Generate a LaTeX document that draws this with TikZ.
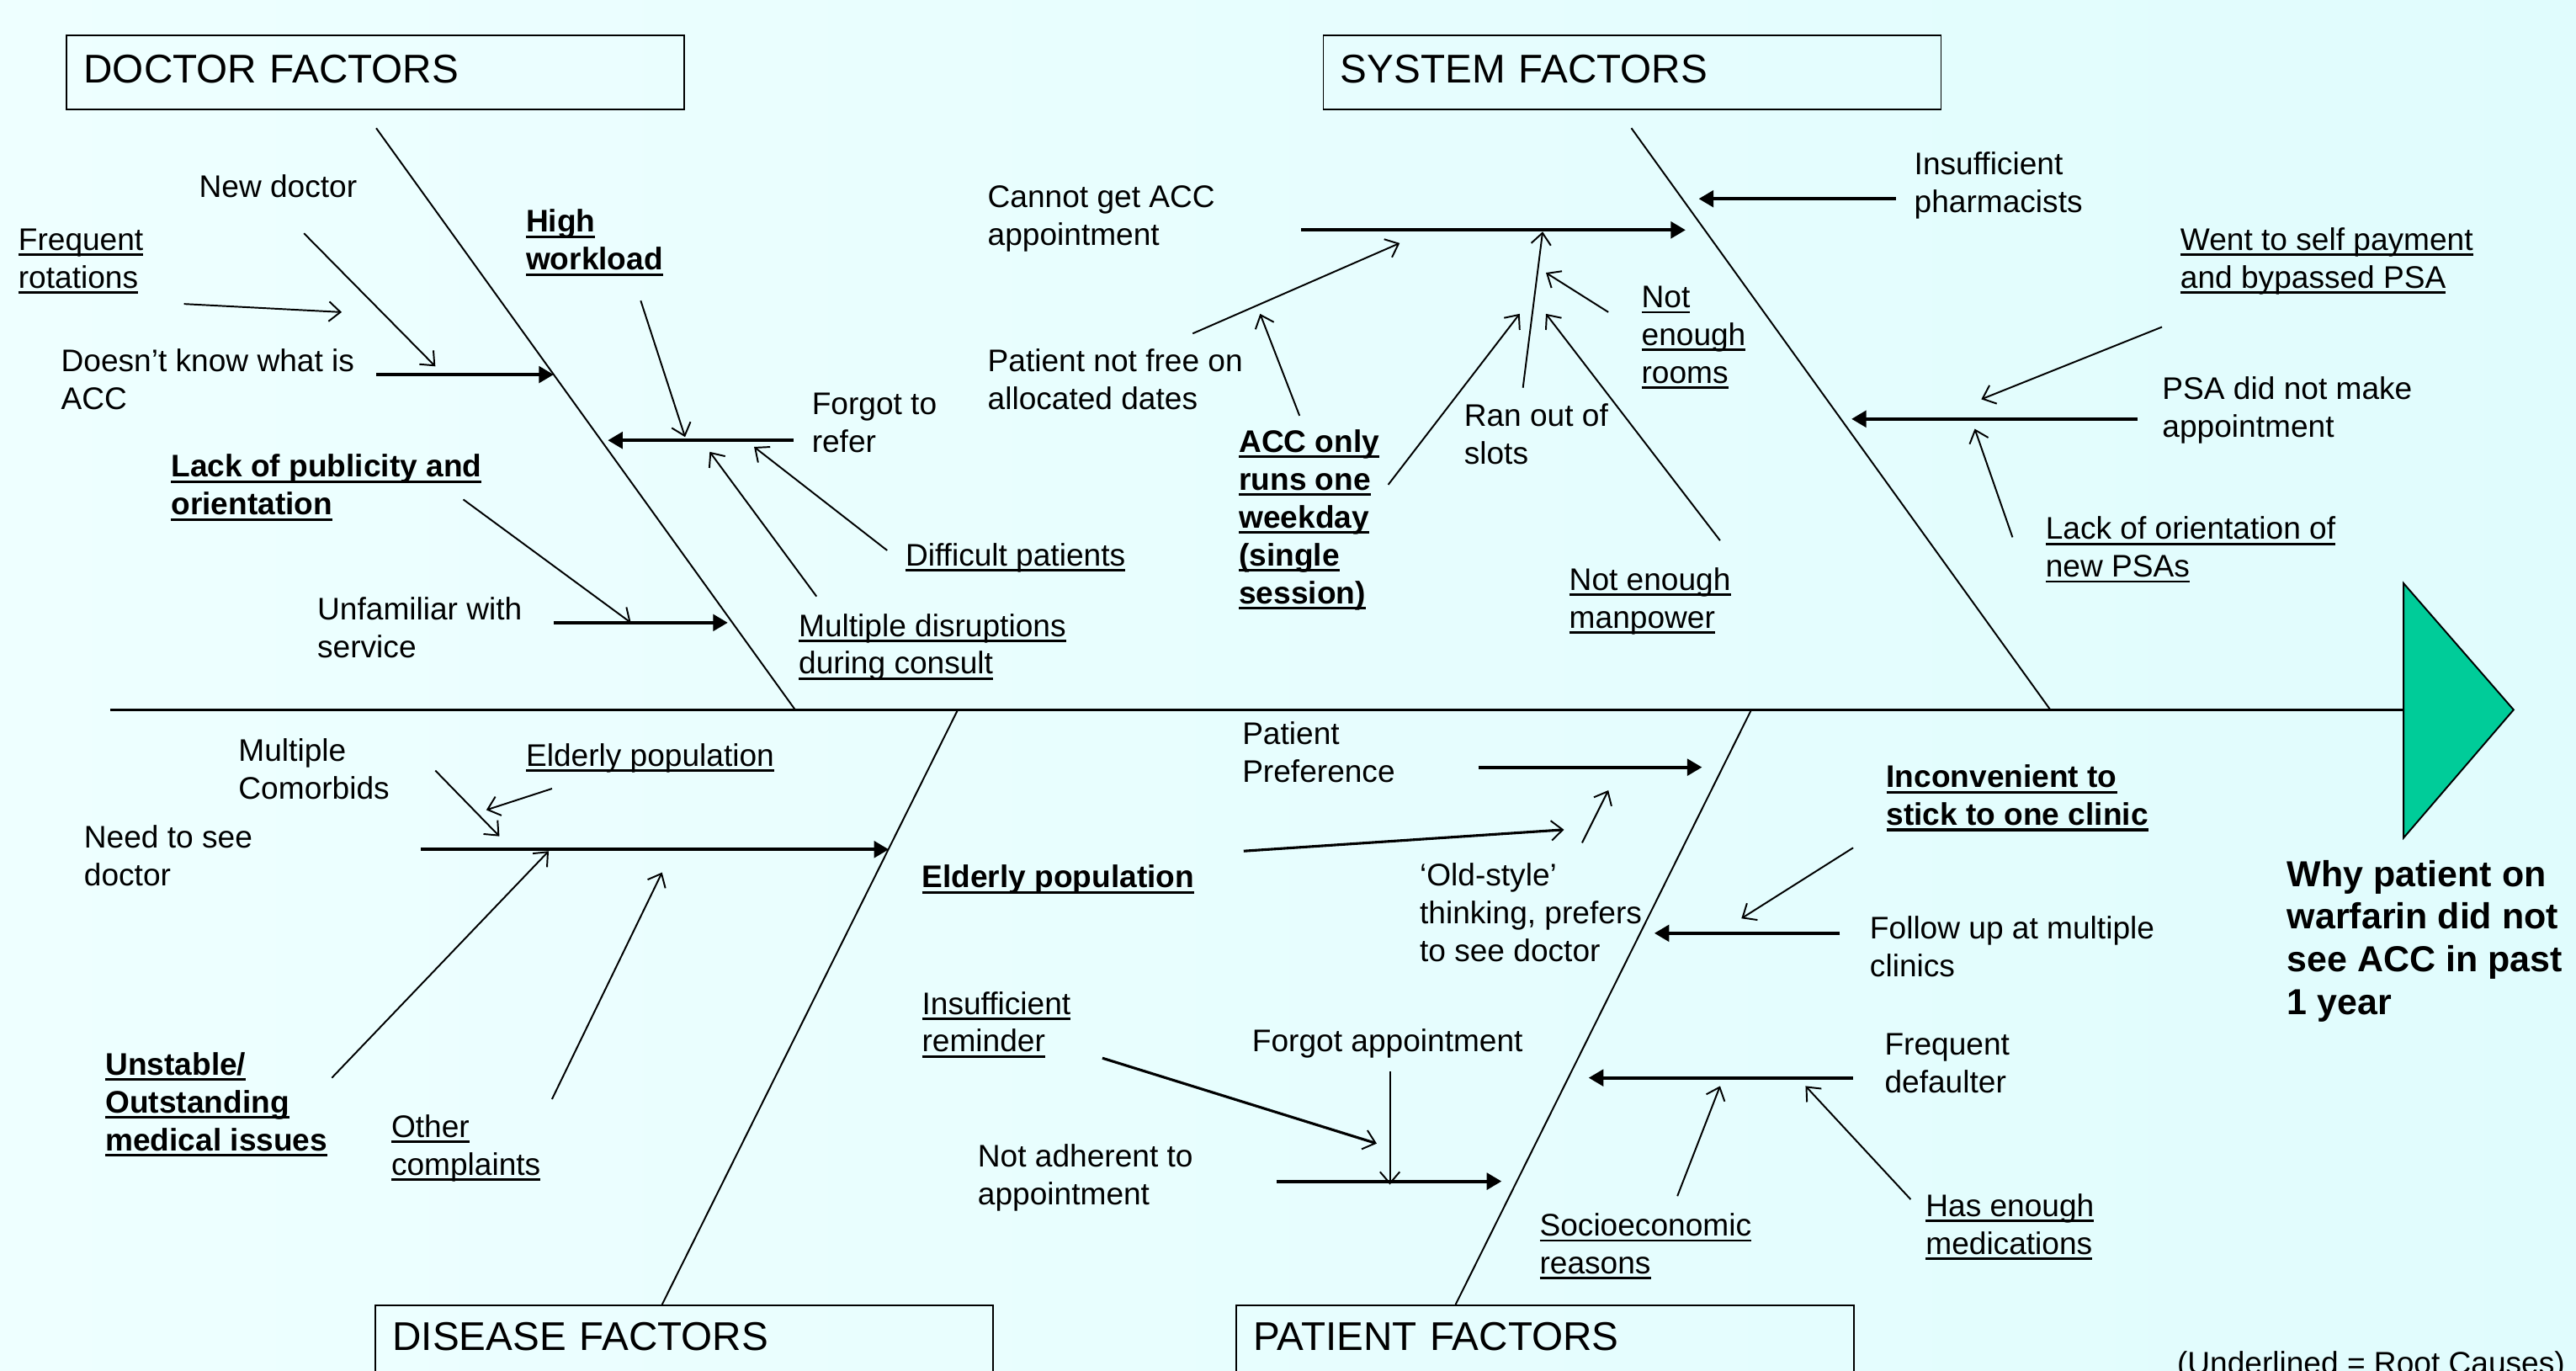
\documentclass[tikz,border=0pt]{standalone}
\usepackage{fontspec}
\setmainfont{Liberation Sans}
\usetikzlibrary{arrows.meta}
\definecolor{bgA}{RGB}{238,255,255}
\definecolor{bgB}{RGB}{224,252,253}
\definecolor{headgreen}{RGB}{0,204,153}
\newcommand\ulin[1]{\setbox0=\hbox{#1}\rlap{\rule[-3.4pt]{\wd0}{1.4pt}}\box0}
\newcommand\ulb[1]{\setbox0=\hbox{\bfseries #1}\rlap{\rule[-3.6pt]{\wd0}{1.6pt}}\box0}
\newcommand\fbarrow[4]{\coordinate (#1s) at (#2); \coordinate (#1e) at (#3); \draw[#4] (#1s) -- (#1e);}
\tikzset{
 lab/.style={anchor=north west, inner sep=0pt, yshift=-1pt, align=left, font=\fontsize{19}{23}\selectfont},
 thinarr/.style={line width=1pt, -{Straight Barb[length=7pt,width=12pt,line width=1pt]}},
 medarr/.style={line width=1.6pt, -{Straight Barb[length=7pt,width=12pt,line width=1pt]}},
 thickarr/.style={line width=2pt, -{Triangle[length=9pt,width=10pt]}},
 bone/.style={line width=1pt},
 titlebox/.style={draw, line width=1pt, anchor=north west, minimum height=45pt, inner xsep=10.5pt, inner ysep=0pt, text width=355pt, align=left, font=\fontsize{24.4}{29}\selectfont},
}
\begin{document}
\begin{tikzpicture}[x=1pt,y=-1pt]
\path[use as bounding box, left color=bgA, right color=bgB] (0,0) rectangle (1568,834);
\clip (0,0) rectangle (1568,834);
% titles
\node[titlebox] (tDoc) at (40,21) {DOCTOR FACTORS\vphantom{Q}};
\node[titlebox] (tSys) at (805,21) {SYSTEM FACTORS\vphantom{Q}};
\node[titlebox, minimum height=42pt] (tDis) at (228,794) {DISEASE FACTORS\vphantom{Q}};
\node[titlebox, minimum height=42pt] (tPat) at (752,794) {PATIENT FACTORS\vphantom{Q}};
\node[anchor=base west, inner sep=0pt, font=\fontsize{19}{23}\selectfont] (note) at (1325,836) {(Underlined = Root Causes)};
% spine and head
\coordinate (spL) at (67,432); \coordinate (spR) at (1463,432);
\draw[line width=1.5pt] (spL) -- (spR);
\coordinate (hT) at (1463,355); \coordinate (hR) at (1530,432); \coordinate (hB) at (1463,510);
\draw[fill=headgreen, line width=1pt] (hT) -- (hR) -- (hB) -- cycle;
\node[lab, font=\fontsize{22}{26}\selectfont\bfseries] (why) at (1392,520) {\strut Why patient on\\warfarin did not\\see ACC in past\\1 year};
% bones
\fbarrow{bD}{229,78}{484,432}{bone}
\fbarrow{bS}{993,78}{1248,432}{bone}
\fbarrow{bE}{583,432}{403,794}{bone}
\fbarrow{bP}{1066,432}{886,794}{bone}
% ---------- doctor factors
\node[lab] (dNew) at (121,103) {\strut New doctor};
\node[lab] (dFreq) at (11,135) {\strut\ulin{Frequent}\\\ulin{rotations}};
\node[lab] (dKnow) at (37,209) {\strut Doesn’t know what is\\ACC};
\node[lab] (dHigh) at (320,124) {\strut\ulb{High}\\\ulb{workload}};
\node[lab] (dForgot) at (494,235) {\strut Forgot to\\refer};
\node[lab] (dDiff) at (551,327) {\strut\ulin{Difficult patients}};
\node[lab] (dMult) at (486,370) {\strut\ulin{Multiple disruptions}\\\ulin{during consult}};
\node[lab] (dLack) at (104,273) {\strut\ulb{Lack of publicity and}\\\ulb{orientation}};
\node[lab] (dUnfam) at (193,360) {\strut Unfamiliar with\\service};
\fbarrow{a1}{112,185}{208,190}{thinarr}
\fbarrow{a2}{185,142}{265,223}{thinarr}
\fbarrow{a3}{229,228}{337,228}{thickarr}
\fbarrow{a4}{390,183}{417,266}{thinarr}
\fbarrow{a5}{483,268}{370,268}{thickarr}
\fbarrow{a6}{540,335}{459,272}{thinarr}
\fbarrow{a7}{497,363}{432,275}{thinarr}
\fbarrow{a8}{282,304}{384,379}{thinarr}
\fbarrow{a9}{337,379}{443,379}{thickarr}
% ---------- system factors
\node[lab] (sCannot) at (601,109) {\strut Cannot get ACC\\appointment};
\node[lab] (sFree) at (601,209) {\strut Patient not free on\\allocated dates};
\node[lab] (sACC) at (754,258) {\strut\ulb{ACC only}\\\ulb{runs one}\\\ulb{weekday}\\\ulb{(single}\\\ulb{session)}};
\node[lab] (sRan) at (891,242) {\strut Ran out of\\slots};
\node[lab] (sRooms) at (999,170) {\strut\ulin{Not}\\\ulin{enough}\\\ulin{rooms}};
\node[lab] (sMan) at (955,342) {\strut\ulin{Not enough}\\\ulin{manpower}};
\node[lab] (sPharm) at (1165,89) {\strut Insufficient\\pharmacists};
\node[lab] (sSelf) at (1327,135) {\strut\ulin{Went to self payment}\\\ulin{and bypassed PSA}};
\node[lab] (sPSA) at (1316,226) {\strut PSA did not make\\appointment};
\node[lab] (sOrient) at (1245,311) {\strut\ulin{Lack of orientation of}\\\ulin{new PSAs}};
\fbarrow{b1}{792,140}{1026,140}{thickarr}
\fbarrow{b2}{726,203}{852,148}{thinarr}
\fbarrow{b3}{791,253}{767,191}{thinarr}
\fbarrow{b4}{845,295}{925,191}{thinarr}
\fbarrow{b5}{927,236}{939,141}{thinarr}
\fbarrow{b6}{979,190}{941,166}{thinarr}
\fbarrow{b7}{1047,329}{941,191}{thinarr}
\fbarrow{b8}{1154,121}{1034,121}{thickarr}
\fbarrow{b9}{1316,199}{1206,243}{thinarr}
\fbarrow{b10}{1301,255}{1127,255}{thickarr}
\fbarrow{b11}{1225,327}{1202,261}{thinarr}
% ---------- disease factors
\node[lab] (eComorb) at (145,446) {\strut Multiple\\Comorbids};
\node[lab] (eElder) at (320,449) {\strut\ulin{Elderly population}};
\node[lab] (eNeed) at (51,499) {\strut Need to see\\doctor};
\node[lab] (eUnst) at (64,637) {\strut\ulb{Unstable/}\\\ulb{Outstanding}\\\ulb{medical issues}};
\node[lab] (eOther) at (238,675) {\strut\ulin{Other}\\\ulin{complaints}};
\fbarrow{c1}{265,469}{304,509}{thinarr}
\fbarrow{c2}{336,480}{296,493}{thinarr}
\fbarrow{c3}{256,517}{541,517}{thickarr}
\fbarrow{c4}{202,656}{334,518}{thinarr}
\fbarrow{c5}{336,669}{403,531}{thinarr}
% ---------- patient factors
\node[lab] (pPref) at (756,436) {\strut Patient\\Preference};
\node[lab] (pElder) at (561,523) {\strut\ulb{Elderly population}};
\node[lab] (pOld) at (864,522) {\strut ‘Old-style’\\thinking, prefers\\to see doctor};
\node[lab] (pIncon) at (1148,462) {\strut\ulb{Inconvenient to}\\\ulb{stick to one clinic}};
\node[lab] (pFollow) at (1138,554) {\strut Follow up at multiple\\clinics};
\node[lab] (pRemind) at (561,600) {\strut\ulin{Insufficient}\\\ulin{reminder}};
\node[lab] (pForgot) at (762,623) {\strut Forgot appointment};
\node[lab] (pAdher) at (595,693) {\strut Not adherent to\\appointment};
\node[lab] (pDefault) at (1147,625) {\strut Frequent\\defaulter};
\node[lab] (pSocio) at (937,735) {\strut\ulin{Socioeconomic}\\\ulin{reasons}};
\node[lab] (pMeds) at (1172,723) {\strut\ulin{Has enough}\\\ulin{medications}};
\fbarrow{d1}{900,467}{1036,467}{thickarr}
\fbarrow{d2}{757,518}{952,505}{medarr}
\fbarrow{d3}{963,513}{979,481}{thinarr}
\fbarrow{d4}{1128,516}{1060,559}{thinarr}
\fbarrow{d5}{1120,568}{1007,568}{thickarr}
\fbarrow{d6}{671,644}{838,696}{medarr}
\fbarrow{d7}{846,652}{846,721}{thinarr}
\fbarrow{d8}{777,719}{914,719}{thickarr}
\fbarrow{d9}{1128,656}{967,656}{thickarr}
\fbarrow{d10}{1021,728}{1047,661}{thinarr}
\fbarrow{d11}{1163,730}{1099,661}{thinarr}
\end{tikzpicture}
\end{document}
